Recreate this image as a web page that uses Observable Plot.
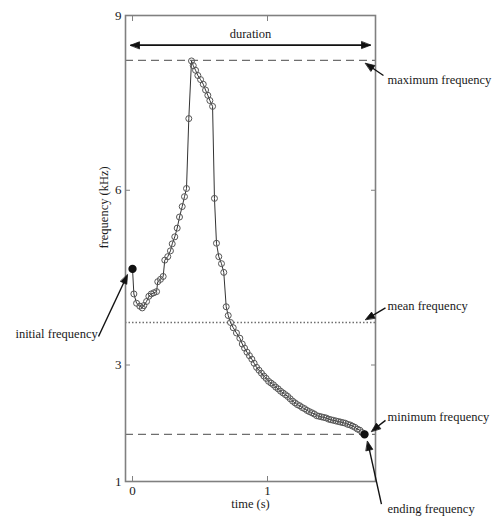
<!DOCTYPE html>
<html><head><meta charset="utf-8">
<script src="https://cdn.jsdelivr.net/npm/d3@7"></script>
<script src="https://cdn.jsdelivr.net/npm/@observablehq/plot@0.6"></script>
<style>
body{margin:0;background:#fff}
#chart{position:absolute;left:0;top:0}
#chart svg, #chart svg text{font-family:"Liberation Serif","DejaVu Serif",serif !important}
</style>
</head><body><div id="chart"></div>
<script>
// ---- data (time in s, frequency in kHz) ----
const times = [0.000,0.010,0.030,0.054,0.072,0.084,0.104,0.121,0.139,0.158,0.178,0.187,0.207,0.227,0.239,0.261,0.281,0.294,0.313,0.331,0.348,0.368,0.385,0.400,0.417,0.437,0.450,0.467,0.484,0.504,0.524,0.541,0.558,0.573,0.593,0.607,0.622,0.639,0.659,0.676,0.694,0.709,0.726,0.746,0.770,0.795,
0.813,0.830,0.848,0.866,0.884,0.901,0.919,0.937,0.955,0.973,0.990,1.008,1.026,1.044,1.061,1.079,1.097,1.115,1.133,1.150,1.168,1.186,1.204,1.221,1.239,1.257,1.275,1.293,1.310,1.328,1.346,1.364,1.381,1.399,1.417,1.435,1.453,1.470,1.488,1.506,1.524,1.541,1.559,1.577,1.595,1.613,1.630,1.648,1.666,1.684,1.701,1.719];
const freqs = [4.65,4.22,4.06,4.01,3.98,4.02,4.09,4.18,4.22,4.24,4.26,4.43,4.47,4.52,4.80,4.86,4.96,5.08,5.20,5.35,5.54,5.72,5.89,6.03,7.23,8.22,8.14,8.06,7.97,7.90,7.82,7.72,7.63,7.54,7.44,5.86,5.09,4.86,4.74,4.59,4.00,3.85,3.73,3.64,3.55,3.46,
3.36,3.29,3.22,3.16,3.10,3.03,2.96,2.91,2.86,2.81,2.77,2.72,2.69,2.66,2.62,2.59,2.55,2.52,2.49,2.46,2.42,2.38,2.35,2.32,2.30,2.27,2.25,2.22,2.20,2.18,2.16,2.13,2.12,2.11,2.10,2.09,2.07,2.06,2.05,2.04,2.03,2.02,2.01,2.00,1.98,1.97,1.95,1.93,1.90,1.88,1.84,1.81];
const yTicks = [1, 3, 6, 9];
const yTicksRight = [3, 6];
const xTicks = [0, 1];
const maxFreq = 8.23;
const meanFreq = 3.73;
const minFreq = 1.81;
const durationLabel = "duration";
const durationFrom = [-0.015, 8.49];
const durationTo = [1.763, 8.49];
const durationTextPos = [0.874, 8.69];
const annLabels = ["initial frequency", "maximum frequency", "mean frequency", "minimum frequency", "ending frequency"];
const annTextT = [-0.258, 1.889, 1.889, 1.889, 1.889];
const annTextF = [3.54, 7.89, 4.02, 2.10, 0.52];
const arrowFromT = [-0.252, 1.859, 1.874, 1.874, 1.844];
const arrowFromF = [3.49, 7.97, 3.98, 2.05, 0.61];
const arrowToT = [-0.037, 1.726, 1.726, 1.770, 1.741];
const arrowToF = [4.55, 8.18, 3.78, 1.86, 1.69];

// ---- layout ----
const W = 493, H = 519;
const mL = 125, mR = 118, mT = 15, mB = 38;
const xDomain = [-0.052, 1.8], yDomain = [1, 9];
const sx = Plot.scale({x: {domain: xDomain, range: [mL, W - mR]}});
const sy = Plot.scale({y: {domain: yDomain, range: [H - mB, mT]}});

const series = times.map((t, i) => ({t, f: freqs[i]}));
const ends = [series[0], series[series.length - 1]];

// arrows: shaft + filled head, built in data space via scale inverses
const arrows = annLabels.map((_, i) => ({from: [arrowFromT[i], arrowFromF[i]], to: [arrowToT[i], arrowToF[i]]}));
arrows.push({from: durationTo, to: durationFrom});
arrows.push({from: durationFrom, to: durationTo});
const shafts = [], heads = [];
arrows.forEach((a, i) => {
  const x0 = sx.apply(a.from[0]), y0 = sy.apply(a.from[1]);
  const x1 = sx.apply(a.to[0]), y1 = sy.apply(a.to[1]);
  const len = Math.hypot(x1 - x0, y1 - y0);
  const ux = (x1 - x0) / len, uy = (y1 - y0) / len;
  const L = 9, Wd = 3.4;
  const bx = x1 - ux * L, by = y1 - uy * L;
  shafts.push({id: i, t1: a.from[0], f1: a.from[1], t2: sx.invert(bx + ux * 2), f2: sy.invert(by + uy * 2)});
  [[x1, y1], [bx - uy * Wd, by + ux * Wd], [bx + uy * Wd, by - ux * Wd]].forEach(([px, py]) =>
    heads.push({id: i, t: sx.invert(px), f: sy.invert(py)}));
});
const annots = annLabels.map((s, i) => ({s, t: annTextT[i], f: annTextF[i]}));
const annLeft = annots.slice(0, 1), annRight = annots.slice(1);

const txt = "#1a1a1a";
const serif = "'Liberation Serif', 'DejaVu Serif', serif";
const plot = Plot.plot({
  width: W, height: H,
  marginLeft: mL, marginRight: mR, marginTop: mT, marginBottom: mB,
  x: {domain: xDomain},
  y: {domain: yDomain},
  style: {fontFamily: serif, fontSize: "12.5px", color: txt, background: "#fff"},
  marks: [
    Plot.ruleY([maxFreq], {stroke: "#6e6e6e", strokeWidth: 1.3, strokeDasharray: "8,5"}),
    Plot.ruleY([meanFreq], {stroke: "#6e6e6e", strokeWidth: 1.3, strokeDasharray: "1.5,2"}),
    Plot.ruleY([minFreq], {stroke: "#6e6e6e", strokeWidth: 1.3, strokeDasharray: "8,5"}),
    Plot.line(series, {x: "t", y: "f", stroke: "#333", strokeWidth: 1}),
    Plot.dot(series, {x: "t", y: "f", r: 3, stroke: "#555", strokeWidth: 1, fill: "none"}),
    Plot.dot(ends, {x: "t", y: "f", r: 3.4, fill: "#111", stroke: "#111"}),
    Plot.frame({stroke: "#808080", strokeWidth: 1.6}),
    // inward ticks
    Plot.axisY(yTicks, {anchor: "left", tickSize: -5, tickFormat: () => "", label: null, stroke: "#808080"}),
    Plot.axisY(yTicksRight, {anchor: "right", tickSize: -5, tickFormat: () => "", label: null, stroke: "#808080"}),
    Plot.axisX(xTicks, {anchor: "bottom", tickSize: -5, tickFormat: () => "", label: null, stroke: "#808080"}),
    Plot.axisX(xTicks, {anchor: "top", tickSize: -5, tickFormat: () => "", label: null, stroke: "#808080"}),
    // tick labels
    Plot.axisY(yTicks, {anchor: "left", tickSize: 0, tickPadding: 4, tickFormat: d => String(d), label: null, fill: txt, fontSize: 13}),
    Plot.axisX(xTicks, {anchor: "bottom", tickSize: 0, tickPadding: 4, tickFormat: d => String(d), label: null, fill: txt, fontSize: 13}),
    // axis titles
    Plot.text(["frequency (kHz)"], {frameAnchor: "left", dx: -22, rotate: -90, text: d => d, fill: txt, fontFamily: serif}),
    Plot.text(["time (s)"], {frameAnchor: "bottom", dy: 26, text: d => d, fill: txt, fontFamily: serif}),
    // annotation arrows
    Plot.link(shafts, {x1: "t1", y1: "f1", x2: "t2", y2: "f2", stroke: "#111", strokeWidth: 1.4}),
    Plot.line(heads, {x: "t", y: "f", z: "id", fill: "#111", stroke: "#111", strokeWidth: 0.8, curve: "linear-closed"}),
    Plot.text([durationLabel], {x: durationTextPos[0], y: durationTextPos[1], text: d => d, fill: txt, fontFamily: serif}),
    Plot.text(annLeft, {x: "t", y: "f", text: "s", textAnchor: "end", fill: txt, fontFamily: serif}),
    Plot.text(annRight, {x: "t", y: "f", text: "s", textAnchor: "start", fill: txt, fontFamily: serif})
  ]
});
document.getElementById("chart").appendChild(plot);
</script>
</body></html>
